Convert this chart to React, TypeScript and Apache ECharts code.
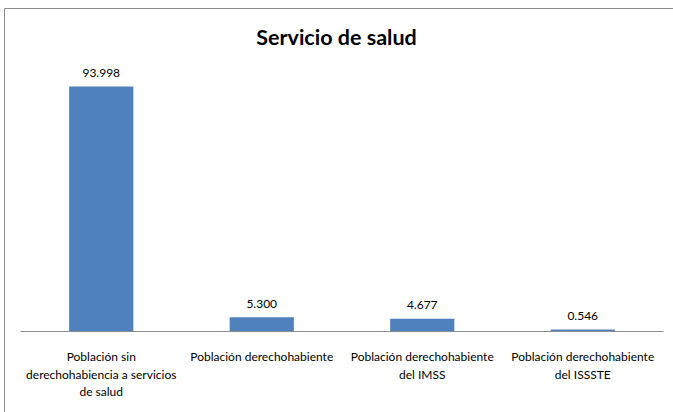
import React, { useEffect, useRef } from "react";
import * as echarts from "echarts";

const titleText = "Servicio de salud";
const categories = [
  "Población sin\nderechohabiencia a servicios\nde salud",
  "Población derechohabiente",
  "Población derechohabiente\ndel IMSS",
  "Población derechohabiente\ndel ISSSTE",
];
const values = [93.998, 5.3, 4.677, 0.546];
const valueLabels = ["93.998", "5.300", "4.677", "0.546"];
const yMin = 0;
const yMax = 100;

const FONT = "Lato, 'Open Sans', sans-serif";

export default function App() {
  const ref = useRef<HTMLDivElement>(null);
  useEffect(() => {
    if (!ref.current) return;
    const chart = echarts.init(ref.current, null, { renderer: "svg" });
    chart.setOption({
      animation: false,
      backgroundColor: "#ffffff",
      title: {
        text: titleText,
        left: "center",
        top: 21,
        textStyle: { fontFamily: FONT, fontSize: 21.5, fontWeight: "bold", color: "#000" },
      },
      graphic: [
        {
          type: "rect",
          shape: { x: 4.5, y: 8.5, width: 700, height: 500 },
          style: { fill: "none", stroke: "#8c8c8c", lineWidth: 1 },
          silent: true,
        },
      ],
      grid: { left: 21, right: 10, top: 71, bottom: 81 },
      xAxis: {
        type: "category",
        data: categories,
        axisLine: { lineStyle: { color: "#8c8c8c", width: 1 } },
        axisTick: { show: false },
        axisLabel: {
          interval: 0,
          margin: 17,
          fontFamily: FONT,
          fontSize: 12,
          lineHeight: 17.5,
          color: "#000",
        },
      },
      yAxis: {
        type: "value",
        min: yMin,
        max: yMax,
        show: false,
        splitLine: { show: false },
      },
      series: [
        {
          type: "bar",
          data: values,
          barWidth: "40%",
          itemStyle: { color: "#4F81BD" },
          label: {
            show: true,
            position: "top",
            distance: 8,
            fontFamily: FONT,
            fontSize: 12,
            color: "#000",
            formatter: (p: any) => valueLabels[p.dataIndex],
          },
        },
      ],
    });
    return () => chart.dispose();
  }, []);
  return (
    <div
      ref={ref}
      style={{ position: "fixed", left: 0, top: 0, width: 673, height: 412 }}
    />
  );
}
